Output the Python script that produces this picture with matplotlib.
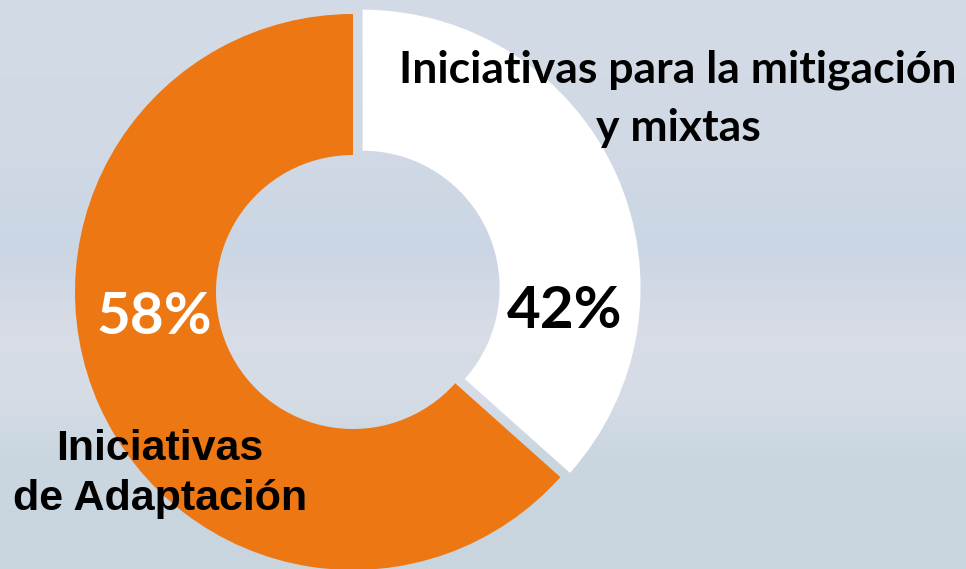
import matplotlib as mpl
mpl.use('Agg')

import matplotlib.pyplot as plt
import numpy as np
from matplotlib.colors import to_rgb

# Data
labels = ['Iniciativas para la mitigación\ny mixtas', 'Iniciativas\nde Adaptación']
pct_labels = ['42%', '58%']
# slice sizes as drawn in the picture (the white wedge ends at ~132 deg)
shares = [36.6, 63.4]
colors = ['#ffffff', '#ed7713']

W, H = 966, 569
fig = plt.figure(figsize=(W / 100, H / 100), dpi=100)
ax = fig.add_axes([0, 0, 1, 1])

# Misty photo background, approximated by a vertical gradient.
stops = [(0, '#d3dce6'), (150, '#d0d9e4'), (250, '#cbd6e4'), (330, '#d8dce7'),
         (400, '#d5dce6'), (450, '#cbd7e0'), (569, '#c8d4de')]
ys = np.arange(H)
sy = [s[0] for s in stops]
grad = np.zeros((H, 1, 3))
for c in range(3):
    grad[:, 0, c] = np.interp(ys, sy, [to_rgb(s[1])[c] for s in stops])
ax.imshow(grad, extent=(0, W, 0, H), aspect='auto', origin='upper', zorder=0)

# Donut (pixel units, y up)
cx, cy = 353, H - 292
r_out, r_in = 278, 137
ax.pie(shares, colors=colors, startangle=90, counterclock=False,
       explode=[10.5, 0], center=(cx, cy), radius=r_out,
       wedgeprops=dict(width=r_out - r_in, linewidth=0), frame=True)
ax.set_xlim(0, W)
ax.set_ylim(0, H)
ax.set_aspect('auto')
ax.axis('off')

calibri = ['Lato', 'DejaVu Sans']
ax.text(565, H - 311, pct_labels[0], fontsize=42, fontweight='bold',
        family=calibri, color='black', ha='center', va='center', zorder=5)
ax.text(154, H - 318, pct_labels[1], fontsize=42, fontweight='bold',
        family=calibri, color='white', ha='center', va='center', zorder=5)

ax.text(678, H - 99, labels[0], fontsize=32, fontweight='bold',
        family=calibri, color='black', ha='center', va='center',
        linespacing=1.55, zorder=5)
ax.text(160, H - 474, labels[1], fontsize=31, fontweight='bold',
        family=['Liberation Sans', 'DejaVu Sans'], color='black',
        ha='center', va='center', linespacing=1.3, zorder=5)

fig.savefig('out.png', dpi=100)
